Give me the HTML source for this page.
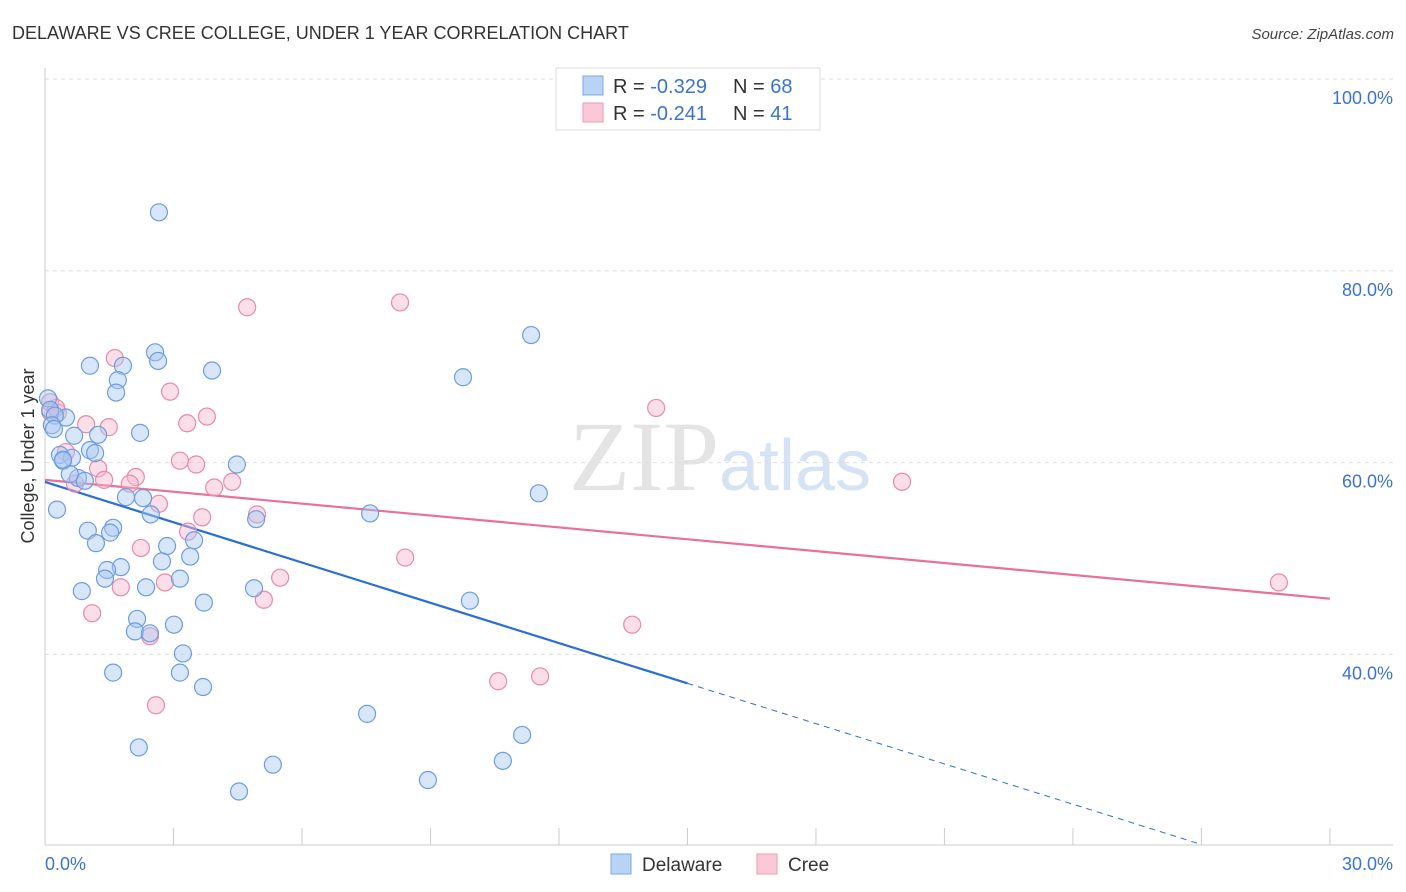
<!DOCTYPE html>
<html><head><meta charset="utf-8"><style>
body{margin:0;background:#fff;font-family:"Liberation Sans",sans-serif}
svg{display:block}
</style></head><body>
<svg id="chart" width="1406" height="892" xmlns="http://www.w3.org/2000/svg">
<text x="12" y="39" font-size="18" fill="#333">DELAWARE VS CREE COLLEGE, UNDER 1 YEAR CORRELATION CHART</text>
<text x="1394" y="39" font-size="15" font-style="italic" fill="#444" text-anchor="end">Source: ZipAtlas.com</text>
<text x="720" y="490" font-size="100" fill="#e4e4e4" text-anchor="middle" font-family="Liberation Serif,serif">ZIP<tspan fill="#d6e3f5" font-family="Liberation Sans,sans-serif" font-size="72">atlas</tspan></text>
<g id="grid"></g>
<g id="axes"></g>
<g id="lines"></g>
<g id="pts"></g>
<text transform="translate(34,456) rotate(-90)" font-size="18" fill="#333" text-anchor="middle">College, Under 1 year</text>
<g>
<rect x="556" y="68" width="264" height="62" fill="#fff" stroke="#ddd"/>
<rect x="583" y="76" width="20" height="19" fill="#b9d3f5" stroke="#7aa7e6"/>
<rect x="583" y="103" width="20" height="19" fill="#fac8d6" stroke="#ec9ab4"/>
<text x="613" y="93" font-size="20" fill="#333">R = <tspan fill="#3b73d1">-0.329</tspan><tspan x="733">N = </tspan><tspan fill="#3b73d1">68</tspan></text>
<text x="613" y="120" font-size="20" fill="#333">R = <tspan fill="#3b73d1"> -0.241</tspan><tspan x="733">N = </tspan><tspan fill="#3b73d1"> 41</tspan></text>
</g>
<g>
<rect x="611" y="854" width="20" height="20" fill="#b9d3f5" stroke="#7aa7e6"/>
<text x="642" y="871" font-size="19" fill="#333">Delaware</text>
<rect x="757" y="854" width="20" height="20" fill="#fac8d6" stroke="#ec9ab4"/>
<text x="788" y="871" font-size="19" fill="#333">Cree</text>
</g>
</svg>
<script>
const blueX=[2.66,11.35,2.57,2.64,1.05,1.82,1.70,3.90,9.76,1.66,0.07,0.12,0.49,0.23,0.16,0.21,2.22,0.68,1.24,1.05,1.17,0.35,0.63,0.42,4.48,0.77,0.93,0.58,11.53,1.89,2.29,0.28,2.47,7.59,4.93,1.00,1.59,1.52,1.19,2.85,3.48,3.39,2.73,1.77,1.45,1.40,3.15,2.36,4.88,0.86,3.71,9.92,2.15,3.01,2.10,2.45,3.22,1.59,3.15,3.69,7.52,11.14,2.19,5.32,10.69,8.94,4.53,0.42];
const blueY=[86.1,73.3,71.5,70.6,70.1,70.1,68.6,69.6,68.9,67.3,66.7,65.5,64.7,64.9,63.9,63.5,63.1,62.8,62.9,61.3,61.0,60.8,60.5,60.2,59.8,58.4,58.1,58.8,56.8,56.4,56.3,55.1,54.6,54.7,54.1,52.9,53.2,52.7,51.6,51.3,51.9,50.2,49.7,49.1,48.8,47.9,47.9,47.0,46.9,46.6,45.4,45.6,43.7,43.1,42.4,42.2,40.1,38.1,38.1,36.6,33.8,31.6,30.3,28.5,28.9,26.9,25.7,60.3];
const pinkX=[8.29,4.72,1.63,2.92,14.27,3.78,3.32,0.30,0.12,0.96,1.49,0.49,3.15,3.53,1.24,2.12,1.38,4.37,3.95,1.98,0.70,20.01,2.66,4.95,3.67,3.34,2.24,8.41,5.49,2.80,1.77,5.11,1.10,13.71,2.45,10.58,11.56,2.59,28.81,0.12,0.26];
const pinkY=[76.7,76.2,70.9,67.4,65.7,64.8,64.1,65.2,65.3,64.0,63.7,61.1,60.2,59.8,59.4,58.5,58.2,58.0,57.4,57.8,57.8,58.0,55.7,54.6,54.3,52.8,51.1,50.1,48.0,47.5,47.0,45.7,44.3,43.1,41.9,37.2,37.7,34.7,47.5,66.3,65.7];
const yTicks=[100,80,60,40];
const xTickVals=[0,3,6,9,12,15,18,21,24,27,30];
const blueTrend=[57.98,-1.4];
const pinkTrend=[58.2,-0.413];
const ns="http://www.w3.org/2000/svg";
const xs=v=>45+v*42.83, ys=v=>79+(100-v)*9.59;
function mk(p,t,a){const e=document.createElementNS(ns,t);for(const k in a)e.setAttribute(k,a[k]);document.getElementById(p).appendChild(e);return e;}
yTicks.forEach(v=>{
 const l=mk('grid','line',{x1:45,x2:1393,y1:ys(v),y2:ys(v),stroke:'#ddd','stroke-dasharray':'4,4'});
 
 
 const t=mk('grid','text',{x:1393,y:ys(v)+25,'font-size':18,fill:'#3b73d1','text-anchor':'end'});
 t.textContent=v.toFixed(1)+'%';
 
 
});
mk('axes','line',{x1:45,x2:45,y1:68,y2:845,stroke:'#ccc'});
mk('axes','line',{x1:45,x2:1393,y1:845,y2:845,stroke:'#ccc'});
xTickVals.forEach(v=>{const l=mk('axes','line',{x1:xs(v),x2:xs(v),y1:828,y2:845,stroke:'#ccc'});
 
 });
const t0=mk('axes','text',{x:45,y:870,'font-size':18,fill:'#3b73d1'});t0.textContent='0.0%';


const t1=mk('axes','text',{x:1393,y:870,'font-size':18,fill:'#3b73d1','text-anchor':'end'});t1.textContent='30.0%';


function drawPts(X,Y,fill,stroke,name){X.forEach((x,i)=>{const c=mk('pts','circle',{cx:xs(x),cy:ys(Y[i]),r:8.5,fill:fill,'fill-opacity':0.45,stroke:stroke,'stroke-width':1.2});
 
 });}
drawPts(pinkX,pinkY,'#f7b6ca','#e88aa8','cree-point');
drawPts(blueX,blueY,'#a8c8f2','#6c9de2','delaware-point');
const bf=v=>blueTrend[0]+blueTrend[1]*v, pf=v=>pinkTrend[0]+pinkTrend[1]*v;
const bl=mk('lines','line',{x1:xs(0),y1:ys(bf(0)),x2:xs(15),y2:ys(bf(15)),stroke:'#2a6fd6','stroke-width':2.2});


const bd=mk('lines','line',{x1:xs(15),y1:ys(bf(15)),x2:xs(27),y2:ys(bf(27)),stroke:'#2a6fd6','stroke-width':1,'stroke-dasharray':'6,5'});


const pl=mk('lines','line',{x1:xs(0),y1:ys(pf(0)),x2:xs(30),y2:ys(pf(30)),stroke:'#e8709a','stroke-width':2.2});


</script>
</body></html>
